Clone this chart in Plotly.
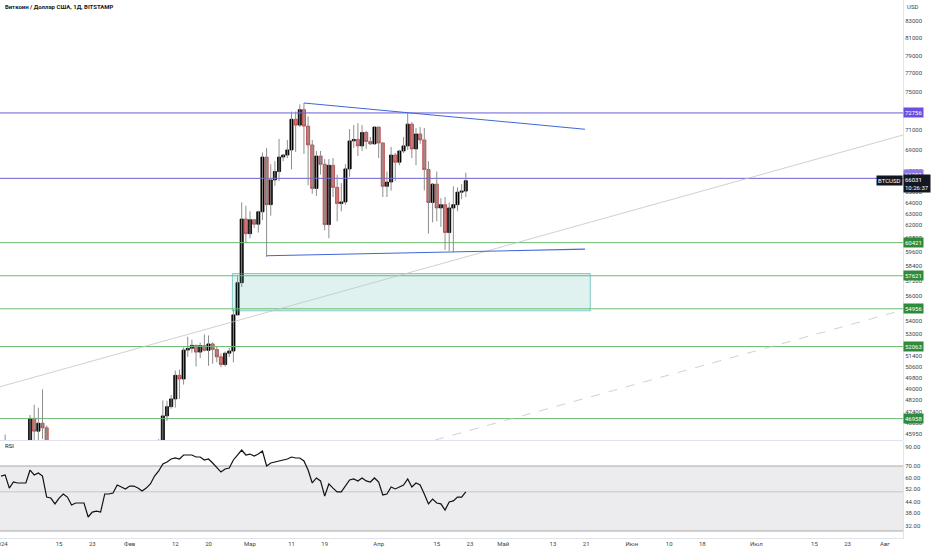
import math
import pandas as pd
import plotly.graph_objects as go

# ---------------- data ----------------
dates = pd.date_range("2024-01-01", periods=113, freq="D")

opens = [42280, 44180, 44950, 42850, 44180, 44160, 43970, 43940, 46970, 46120,
         46650, 46340, 42780, 42850, 41730, 42500, 43140, 42760, 41280, 41620,
         41680, 41580, 39530, 39900, 40080, 39950, 41820, 42120, 42030, 43300,
         42950, 42580, 43080, 43190, 42990, 42580, 42700, 43100, 44350, 45300,
         47140, 47770, 48300, 49960, 49700, 51800, 51930, 52150, 51650, 52130,
         51780, 52260, 51850, 51300, 50740, 51570, 51730, 54480, 57050, 62500,
         61200, 62440, 62040, 63150, 68300, 63800, 66100, 66900, 68300, 68500,
         69000, 72100, 71500, 73100, 71400, 69500, 65300, 68400, 67600, 62000,
         67500, 65400, 63900, 64050, 67150, 69900, 70050, 69400, 70750, 69850,
         69600, 71300, 69700, 65500, 65900, 68500, 67800, 68900, 69400, 71600,
         69100, 70600, 70000, 67100, 64000, 65700, 63500, 63800, 61300, 63500,
         63800, 64950, 65050]
highs = [44200, 45900, 45500, 44770, 44350, 44230, 44480, 47200, 47900, 47700,
         48970, 46500, 43250, 43080, 43400, 43570, 43200, 42930, 42180, 41860,
         41870, 41690, 40130, 40520, 40290, 42200, 42200, 42850, 43310, 43860,
         43740, 43270, 43480, 43390, 43110, 43500, 43400, 44400, 45600, 48200,
         48170, 48570, 50300, 50370, 52000, 52800, 52580, 52200, 52360, 52980,
         52900, 52380, 52050, 51550, 51700, 51960, 54900, 57570, 64000, 63700,
         63200, 62450, 63250, 68750, 69200, 67600, 67900, 70100, 68600, 70000,
         72900, 72900, 73650, 73800, 72400, 70000, 68900, 68900, 68100, 68100,
         68200, 66600, 65800, 67600, 71100, 71500, 71700, 71500, 70900, 70300,
         71300, 71300, 69700, 66900, 69300, 68700, 69000, 70300, 72750, 71800,
         71200, 71300, 71200, 67900, 65800, 66900, 64400, 64500, 64000, 65500,
         65400, 65700, 66800]
lows = [42180, 44150, 40750, 42630, 42600, 43420, 43600, 43200, 44750, 44300,
        45600, 41500, 42450, 41720, 41720, 42050, 42200, 40650, 40280, 41450,
        41500, 39450, 38500, 39480, 39530, 39820, 41400, 41640, 41800, 42700,
        42300, 41880, 42600, 42800, 42200, 42300, 42600, 42700, 44300, 45250,
        46800, 47620, 47700, 48300, 49300, 51300, 51600, 50600, 51200, 51700,
        50650, 50800, 50900, 50550, 50600, 51300, 50900, 54450, 56700, 60400,
        60800, 61700, 61300, 62400, 59200, 62800, 65550, 66000, 67900, 68200,
        67100, 68800, 71300, 68600, 65600, 64800, 64600, 66600, 61500, 60800,
        64500, 62300, 63200, 63800, 66400, 69200, 68400, 68900, 69100, 69500,
        69600, 68200, 64500, 64500, 65100, 66000, 67500, 68700, 69000, 68200,
        67500, 69600, 65100, 61200, 62200, 62300, 61800, 59800, 59700, 59600,
        63200, 64300, 64500]
closes = [44180, 44950, 42850, 44180, 44160, 43970, 43940, 46970, 46120, 46650,
          46340, 42780, 42850, 41730, 42500, 43140, 42760, 41280, 41620, 41680,
          41580, 39530, 39900, 40080, 39950, 41820, 42120, 42030, 43300, 42950,
          42580, 43080, 43190, 42990, 42580, 42700, 43100, 44350, 45300, 47140,
          47770, 48300, 49960, 49700, 51800, 51930, 52150, 51650, 52130, 51780,
          52260, 51850, 51300, 50740, 51570, 51730, 54480, 57050, 62500, 61200,
          62440, 62040, 63150, 68300, 63800, 66100, 66900, 68300, 68500, 69000,
          72100, 71500, 73100, 71400, 69500, 65300, 68400, 67600, 62000, 67500,
          65400, 63900, 64050, 67150, 69900, 70050, 69400, 70750, 69850, 69600,
          71300, 69700, 65500, 65900, 68500, 67800, 68900, 69400, 71600, 69100,
          70600, 70000, 67100, 64000, 65700, 63500, 63800, 61300, 63500, 63800,
          64950, 65050, 66031]
rsi = [61.4, 62.3, 52.5, 56.8, 56.1, 56.1, 56.1, 66.4, 62.3, 63.9,
       61.4, 46.7, 46.1, 42.7, 46.1, 48.6, 46.7, 42.1, 43.2, 43.2,
       43.2, 36.0, 38.4, 38.9, 38.4, 48.6, 48.6, 49.2, 54.6, 53.2,
       51.9, 53.9, 53.9, 52.5, 50.5, 52.5, 55.4, 61.4, 65.6, 71.8,
       73.7, 76.7, 77.7, 76.7, 80.8, 80.8, 80.8, 78.7, 78.7, 75.7,
       76.7, 72.8, 68.2, 64.7, 67.3, 68.2, 75.7, 80.8, 86.2, 80.8,
       81.8, 79.7, 81.8, 85.1, 70.0, 72.8, 73.7, 74.7, 75.7, 76.7,
       78.7, 77.7, 77.7, 74.7, 66.4, 56.1, 59.9, 57.6, 47.3, 55.4,
       52.5, 49.9, 49.9, 53.9, 58.3, 59.1, 57.6, 59.9, 57.6, 56.8,
       59.9, 56.8, 48.0, 48.6, 53.2, 51.9, 53.2, 54.6, 59.1, 53.2,
       56.1, 54.6, 48.6, 42.7, 45.5, 43.2, 42.7, 39.4, 43.8, 44.4,
       46.7, 46.7, 49.9]

purple_levels = [72756, 66251]
green_levels = [60421, 57621, 54956, 52063, 46958]
current_price = 66031
countdown = "10:26:37"

zone_dates = ["2024-02-25 18:00", "2024-05-22 00:00"]
zone_prices = [54800, 57800]

top_line_dates = ["2024-03-14", "2024-05-20 17:00"]
top_line_prices = [73800, 71080]
bottom_line_dates = ["2024-03-05", "2024-05-20 17:00"]
bottom_line_prices = [59300, 59860]
trend_dates = ["2023-12-31 18:00", "2024-08-05 08:00"]
trend_prices = [49150, 70490]
dash_dates = ["2024-04-14 14:00", "2024-08-05 08:00"]
dash_prices = [45540, 54860]

price_ticks = [83000, 81000, 79000, 77000, 75000, 71000, 69000, 67000, 65000,
               64000, 63000, 62000, 60800, 59600, 58400, 57200, 56000, 54000,
               53000, 51400, 50600, 49800, 49000, 48200, 47400, 46650, 45950]
rsi_ticks = [90, 70, 60, 52, 44, 38, 32]
rsi_band = [30, 70]
rsi_mid = 50

x_tick_dates = ["2024-01-01", "2024-01-15", "2024-01-23", "2024-02-01", "2024-02-12",
                "2024-02-20", "2024-03-01", "2024-03-11", "2024-03-19", "2024-04-01",
                "2024-04-15", "2024-04-23", "2024-05-01", "2024-05-13", "2024-05-21",
                "2024-06-01", "2024-06-10", "2024-06-18", "2024-07-01", "2024-07-15",
                "2024-07-23", "2024-08-01"]
x_tick_text = ["2024", "15", "23", "Фев", "12", "20", "Мар", "11", "19", "Апр",
               "15", "23", "Май", "13", "21", "Июн", "10", "18", "Июл", "15",
               "23", "Авг"]

x_range = ["2023-12-31 18:13", "2024-08-05 08:24"]
price_range = [45540, 85535]
rsi_range = [27.38, 96.97]

title_text = "Биткоин / Доллар США, 1Д, BITSTAMP"

# ---------------- styling ----------------
FONT = "Roboto"
PURPLE_LINE = "#6a5fd0"
PURPLE_BOX = ["#6c4fe0", "#9178e3"]
GREEN_LINE = "#6dbb70"
GREEN_BOX = "#2e8b3a"
BLUE_LINE = "#3f68d6"
GREY_LINE = "#c4c4c4"
EXT = ["2023-11-01", "2024-10-01"]

fig = go.Figure()

# support zone
fig.add_trace(go.Scatter(
    x=[zone_dates[0], zone_dates[1], zone_dates[1], zone_dates[0], zone_dates[0]],
    y=[zone_prices[0], zone_prices[0], zone_prices[1], zone_prices[1], zone_prices[0]],
    mode="lines", fill="toself", fillcolor="rgba(38,166,154,0.15)",
    line=dict(color="rgba(38,166,154,0.55)", width=1), hoverinfo="skip"))

# horizontal levels
for lv in purple_levels:
    fig.add_trace(go.Scatter(x=EXT, y=[lv, lv], mode="lines",
                             line=dict(color=PURPLE_LINE, width=1), hoverinfo="skip"))
for lv in green_levels:
    fig.add_trace(go.Scatter(x=EXT, y=[lv, lv], mode="lines",
                             line=dict(color=GREEN_LINE, width=1), hoverinfo="skip"))

# grey long trend line and dashed parallel
fig.add_trace(go.Scatter(x=trend_dates, y=trend_prices, mode="lines",
                         line=dict(color=GREY_LINE, width=0.8), hoverinfo="skip"))
fig.add_trace(go.Scatter(x=dash_dates, y=dash_prices, mode="lines",
                         line=dict(color=GREY_LINE, width=0.8, dash="dash"), hoverinfo="skip"))

# wicks
wx, wy = [], []
for d, lo, hi in zip(dates, lows, highs):
    wx += [d, d, None]
    wy += [lo, hi, None]
fig.add_trace(go.Scatter(x=wx, y=wy, mode="lines",
                         line=dict(color="#8e8e8e", width=1), hoverinfo="skip"))

# bodies
body_hi = [max(o, c) for o, c in zip(opens, closes)]
body_lo = [min(o, c) for o, c in zip(opens, closes)]
fig.add_trace(go.Candlestick(
    x=dates, open=opens, high=body_hi, low=body_lo, close=closes,
    increasing=dict(line=dict(color="#000000", width=0.8), fillcolor="#000000"),
    decreasing=dict(line=dict(color="#b23a3a", width=0.8), fillcolor="#e07272"),
    whiskerwidth=0, hoverinfo="skip"))

# blue pattern lines
fig.add_trace(go.Scatter(x=top_line_dates, y=top_line_prices, mode="lines",
                         line=dict(color=BLUE_LINE, width=1.1), hoverinfo="skip"))
fig.add_trace(go.Scatter(x=bottom_line_dates, y=bottom_line_prices, mode="lines",
                         line=dict(color=BLUE_LINE, width=1.1), hoverinfo="skip"))

# RSI pane
fig.add_trace(go.Scatter(x=[EXT[0], EXT[1], EXT[1], EXT[0], EXT[0]],
                         y=[rsi_band[0], rsi_band[0], rsi_band[1], rsi_band[1], rsi_band[0]],
                         mode="lines", fill="toself", fillcolor="#ececee",
                         line=dict(width=0), xaxis="x2", yaxis="y2", hoverinfo="skip"))
for lv, col in [(rsi_band[1], "#a9a9a9"), (rsi_mid, "#c8c8c8"), (rsi_band[0], "#a9a9a9")]:
    fig.add_trace(go.Scatter(x=EXT, y=[lv, lv], mode="lines",
                             line=dict(color=col, width=1), xaxis="x2", yaxis="y2",
                             hoverinfo="skip"))
fig.add_trace(go.Scatter(x=dates, y=rsi, mode="lines",
                         line=dict(color="#111111", width=1.2), xaxis="x2", yaxis="y2",
                         hoverinfo="skip"))

H_PLOT = 538.0
main_bottom = 1 - 440 / H_PLOT
rsi_top = 1 - 441 / H_PLOT

tick_font = dict(family=FONT, size=6, color="#444444")

fig.update_layout(
    width=932, height=550,
    margin=dict(l=0, r=29, t=0, b=12, pad=0, autoexpand=False),
    paper_bgcolor="white", plot_bgcolor="white",
    showlegend=False, boxgap=0.25, boxgroupgap=0,
    font=dict(family=FONT, size=6, color="#333333"),
    xaxis=dict(type="date", range=x_range, domain=[0, 1], anchor="y",
               showticklabels=False, showgrid=False, zeroline=False, automargin=False,
               rangeslider=dict(visible=False), showline=False),
    xaxis2=dict(type="date", range=x_range, domain=[0, 1], anchor="y2", matches="x",
                tickvals=x_tick_dates, ticktext=x_tick_text, tickfont=tick_font,
                ticks="", showgrid=False, zeroline=False, ticklabeloverflow="allow",
                automargin=False, showline=True, linecolor="#e0e3eb", linewidth=1),
    yaxis=dict(type="log", domain=[main_bottom, 1],
               range=[math.log10(price_range[0]), math.log10(price_range[1])],
               side="right", tickvals=price_ticks, ticktext=[str(v) for v in price_ticks],
               tickfont=tick_font, ticks="", showgrid=False, zeroline=False,
               automargin=False, ticklabeloverflow="allow",
               showline=True, linecolor="#e0e3eb", linewidth=1, anchor="x"),
    yaxis2=dict(type="log", domain=[0, rsi_top],
                range=[math.log10(rsi_range[0]), math.log10(rsi_range[1])],
                side="right", tickvals=rsi_ticks, ticktext=[f"{v:.2f}" for v in rsi_ticks],
                tickfont=tick_font, ticks="", showgrid=False, zeroline=False,
                automargin=False, ticklabeloverflow="allow",
                showline=True, linecolor="#e0e3eb", linewidth=1, anchor="x2"),
)

# pane separator
fig.add_shape(type="line", xref="paper", yref="paper", x0=0, x1=1,
              y0=(main_bottom + rsi_top) / 2, y1=(main_bottom + rsi_top) / 2,
              line=dict(color="#e0e3eb", width=1))

ann = []
ann.append(dict(xref="paper", yref="paper", x=0.0033, y=1 - 7 / H_PLOT, xanchor="left",
                yanchor="middle", text="<b>" + title_text + "</b>", showarrow=False,
                font=dict(family=FONT, size=6, color="#131722")))
ann.append(dict(xref="paper", yref="paper", x=912 / 903, y=1 - 7 / H_PLOT, xanchor="center",
                yanchor="middle", text="USD", showarrow=False,
                font=dict(family=FONT, size=6, color="#444444")))
ann.append(dict(xref="paper", yref="paper", x=0.0033, y=1 - 445 / H_PLOT, xanchor="left",
                yanchor="middle", text="RSI", showarrow=False,
                font=dict(family=FONT, size=6, color="#131722")))

box_font = dict(family=FONT, size=6, color="white")
ann.append(dict(xref="paper", yref="y", x=1, y=math.log10(purple_levels[0]), xanchor="left",
                yanchor="middle", text=str(purple_levels[0]), showarrow=False,
                bgcolor=PURPLE_BOX[0], borderpad=1, font=box_font))
ann.append(dict(xref="paper", yref="y", x=1, y=math.log10(purple_levels[1]), xanchor="left",
                yanchor="middle", text=str(purple_levels[1]), showarrow=False, yshift=4,
                bgcolor=PURPLE_BOX[1], borderpad=1, font=box_font))
for lv in green_levels:
    ann.append(dict(xref="paper", yref="y", x=1, y=math.log10(lv), xanchor="left",
                    yanchor="middle", text=str(lv), showarrow=False,
                    bgcolor=GREEN_BOX, borderpad=1, font=box_font))
ann.append(dict(xref="paper", yref="y", x=1, y=math.log10(current_price), xanchor="left",
                yanchor="middle", text=f"{current_price}<br>{countdown}", showarrow=False,
                yshift=-2.5, bgcolor="#131722", borderpad=1, align="left", font=box_font))
ann.append(dict(xref="paper", yref="y", x=1, y=math.log10(current_price), xanchor="right",
                yanchor="middle", text="BTCUSD", showarrow=False,
                bgcolor="#131722", borderpad=1, font=box_font))
fig.update_layout(annotations=ann)

fig.write_html(
    "out.html",
    config={"displayModeBar": False},
    post_script="document.body.style.margin='0';document.body.style.overflow='hidden';",
)
